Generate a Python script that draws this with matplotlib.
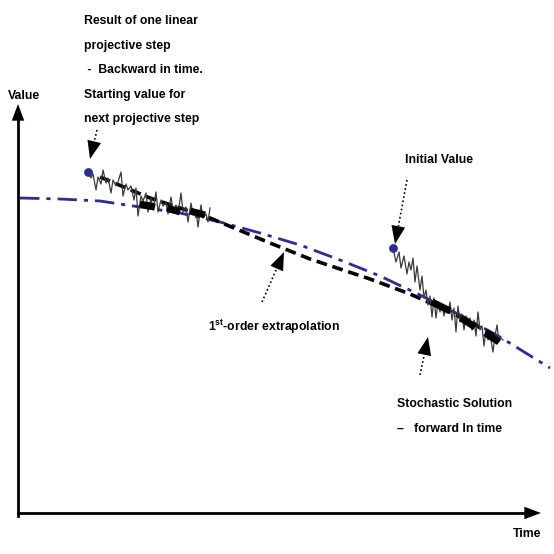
import numpy as np
import matplotlib.pyplot as plt

# Data (pixel coords, y down)
blue_x = [20, 60, 100, 140, 180, 220, 260, 300, 340, 380, 420, 460, 500, 550]
blue_y = [198, 199, 201, 207, 213, 222, 233, 245, 260, 276, 295, 315, 337, 368]

extrap_x = [100, 150, 210, 270, 310, 370, 410, 450, 500]
extrap_y = [177, 198, 218, 243, 259, 279, 294, 312, 338]

noise1_x = [88, 91, 93, 96, 98, 101, 103, 106, 108, 111, 113, 116, 118, 121, 123,
            126, 128, 131, 134, 136, 138, 141, 143, 146, 148, 151, 153, 156, 158,
            161, 163, 166, 168, 171, 173, 176, 178, 181, 183, 186, 188, 191, 193,
            196, 198, 201, 203, 206, 208, 210]
noise1_y = [172, 178, 174, 190, 177, 184, 170, 183, 178, 193, 180, 186, 182, 172, 196,
            184, 190, 186, 200, 188, 216, 196, 201, 193, 212, 198, 210, 192, 212,
            200, 206, 203, 214, 197, 210, 205, 214, 193, 212, 207, 222, 203, 215,
            210, 227, 205, 218, 214, 222, 208]

noise2_x = [393, 396, 399, 401, 404, 407, 409, 411, 413, 415, 417, 420, 422, 424,
            426, 428, 430, 432, 434, 436, 438, 440, 442, 444, 446, 448, 450, 452,
            454, 456, 458, 460, 462, 464, 466, 468, 470, 472, 474, 476, 478, 480,
            482, 484, 486, 488, 490, 493, 495, 497, 499, 501, 503]
noise2_y = [248, 262, 252, 268, 256, 274, 262, 270, 258, 282, 266, 290, 276, 298,
            290, 305, 296, 317, 298, 318, 302, 312, 304, 316, 306, 312, 302, 320,
            308, 332, 306, 322, 314, 330, 316, 324, 318, 330, 320, 336, 312, 330,
            326, 346, 330, 340, 334, 352, 336, 325, 342, 338, 340]

# short thick coarse steps
thick_x0 = [140, 167, 190, 432, 461, 485]
thick_y0 = [204, 208, 211, 302, 318, 333]
thick_x1 = [155, 180, 205, 450, 475, 499]
thick_y1 = [207, 212, 215, 311, 327, 342]

dots_x = [88, 393]
dots_y = [172, 248]

# annotation arrows: tail, tip
arrow_tail = [(97, 130), (407, 180), (262, 302), (420, 375)]
arrow_tip = [(90, 159), (395, 244), (284, 252), (428, 337)]

labels = ["Result of one linear\nprojective step\n -  Backward in time.\nStarting value for\nnext projective step",
          "Initial Value",
          "1$^{\\rm st}$-order extrapolation",
          "Stochastic Solution\n\u2013   forward In time"]
label_xy = [(84, 15), (405, 154), (208, 318), (397, 398)]

plt.rcParams['font.family'] = ['Liberation Sans', 'DejaVu Sans']
plt.rcParams['font.weight'] = 'bold'
plt.rcParams['mathtext.fontset'] = 'custom'
plt.rcParams['mathtext.rm'] = 'Liberation Sans:bold'

fig = plt.figure(figsize=(5.54, 5.54), dpi=100)
ax = fig.add_axes([0, 0, 1, 1])
ax.set_xlim(0, 554)
ax.set_ylim(554, 0)
ax.axis('off')

navy = '#2b2b9a'
ax.plot(blue_x, blue_y, color=navy, lw=2, dashes=(7, 2.5, 1.5, 2.5))
ax.plot(extrap_x, extrap_y, color='black', lw=2.6, dashes=(3, 1.6))
ax.plot(noise1_x, noise1_y, color='#3a3a3a', lw=0.9)
ax.plot(noise2_x, noise2_y, color='#3a3a3a', lw=0.9)
for x0, y0, x1, y1 in zip(thick_x0, thick_y0, thick_x1, thick_y1):
    ax.plot([x0, x1], [y0, y1], color='black', lw=5, solid_capstyle='butt')
ax.scatter(dots_x, dots_y, s=28, color=navy, zorder=5)

# axes with arrows
ax.plot([18, 18], [516, 118], color='black', lw=2)
ax.annotate('', xy=(18, 104), xytext=(18, 122),
            arrowprops=dict(arrowstyle='-|>,head_length=1.2,head_width=0.45',
                            color='black', lw=0, shrinkA=0, shrinkB=0))
ax.plot([18, 528], [513, 513], color='black', lw=2)
ax.annotate('', xy=(541, 513), xytext=(525, 513),
            arrowprops=dict(arrowstyle='-|>,head_length=1.2,head_width=0.45',
                            color='black', lw=0, shrinkA=0, shrinkB=0))
ax.text(8, 96, "Value", fontsize=8.8, va='center', ha='left')
ax.text(541, 534, "Time", fontsize=8.8, va='center', ha='right')

for (tx, ty), (hx, hy) in zip(arrow_tail, arrow_tip):
    dx, dy = hx - tx, hy - ty
    L = np.hypot(dx, dy)
    bx, by = hx - dx / L * 18, hy - dy / L * 18
    ax.plot([tx, bx], [ty, by], color='black', lw=1.2, ls=(0, (1, 1.5)))
    ax.annotate('', xy=(hx, hy), xytext=(bx, by),
                arrowprops=dict(arrowstyle='-|>,head_length=1.3,head_width=0.5',
                                color='black', lw=0, shrinkA=0, shrinkB=0))

for txt, (lx, ly) in zip(labels, label_xy):
    ax.text(lx, ly, txt, fontsize=8.8, va='top', ha='left', linespacing=2.4)

fig.savefig('out.png', dpi=100)
